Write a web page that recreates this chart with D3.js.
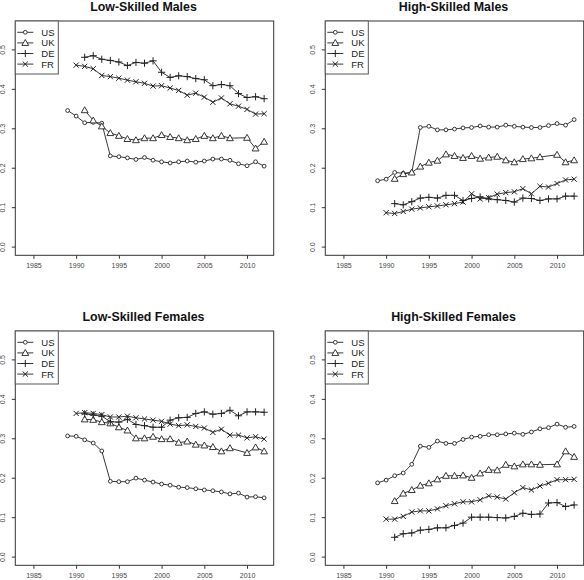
<!DOCTYPE html>
<html>
<head>
<meta charset="utf-8">
<script src="https://cdn.jsdelivr.net/npm/d3@7"></script>
<style>
  html, body { margin: 0; padding: 0; background: #fff; }
  svg { display: block; }
  text { font-family: "Liberation Sans", Arial, sans-serif; }
</style>
</head>
<body>
<svg id="chart" width="584" height="580"></svg>
<script>
// ---- DATA ----
const years = [1989,1990,1991,1992,1993,1994,1995,1996,1997,1998,1999,2000,
               2001,2002,2003,2004,2005,2006,2007,2008,2009,2010,2011,2012];
const countries = ["US", "UK", "DE", "FR"];
const titles = ["Low-Skilled Males", "High-Skilled Males", "Low-Skilled Females", "High-Skilled Females"];
const xTicks = [1985, 1990, 1995, 2000, 2005, 2010];
const yTicks = [0.0, 0.1, 0.2, 0.3, 0.4, 0.5];
const yTickLabels = ["0.0", "0.1", "0.2", "0.3", "0.4", "0.5"];

// Low-Skilled Males
const lsmUS = [0.345,0.331,0.314,0.315,0.313,0.230,0.228,0.225,0.221,0.226,0.219,0.215,0.212,0.215,0.217,0.214,0.217,0.222,0.222,0.219,0.210,0.205,0.215,0.204];
const lsmUK = [null,null,0.346,0.320,0.305,0.288,0.281,0.273,0.270,0.275,0.275,0.283,0.278,0.275,0.270,0.273,0.281,0.275,0.281,0.275,null,0.276,0.249,0.266];
const lsmDE = [null,null,0.480,0.484,0.475,0.472,0.468,0.459,0.467,0.465,0.471,0.442,0.429,0.433,0.431,0.426,0.423,0.408,0.411,0.408,0.388,0.378,0.380,0.375];
const lsmFR = [null,0.460,0.457,0.451,0.434,0.431,0.427,0.422,0.418,0.414,0.407,0.408,0.402,0.396,0.384,0.389,0.379,0.366,0.377,0.362,0.356,0.348,0.336,0.337];

// High-Skilled Males
const hsmUS = [0.167,0.171,0.188,0.186,0.188,0.302,0.305,0.296,0.296,0.298,0.301,0.302,0.306,0.303,0.303,0.308,0.305,0.303,0.302,0.302,0.307,0.312,0.308,0.322];
const hsmUK = [null,null,0.172,0.184,0.188,0.203,0.213,0.218,0.234,0.230,0.225,0.230,0.223,0.226,0.228,0.219,0.214,0.222,0.224,0.227,null,0.233,0.214,0.219];
const hsmDE = [null,null,0.109,0.106,0.114,0.123,0.125,0.123,0.130,0.130,0.117,0.122,0.126,0.121,0.119,0.117,0.113,0.123,0.122,0.117,0.121,0.121,0.128,0.128];
const hsmFR = [null,0.086,0.084,0.089,0.095,0.098,0.101,0.103,0.106,0.109,0.113,0.134,0.121,0.124,0.133,0.137,0.139,0.147,0.134,0.153,0.151,0.160,0.169,0.171];

// Low-Skilled Females
const lsfUS = [0.306,0.305,0.296,0.288,0.268,0.191,0.190,0.190,0.199,0.194,0.189,0.184,0.181,0.176,0.175,0.172,0.169,0.167,0.164,0.159,0.161,0.151,0.152,0.149];
const lsfUK = [null,null,0.348,0.347,0.341,0.338,0.328,0.320,0.300,0.300,0.304,0.298,0.298,0.289,0.292,0.284,0.282,0.278,0.267,0.275,null,0.263,0.277,0.267];
const lsfDE = [null,null,0.362,0.359,0.356,0.342,0.341,0.348,0.335,0.332,0.328,0.328,0.346,0.352,0.353,0.363,0.367,0.361,0.363,0.371,0.357,0.367,0.367,0.366];
const lsfFR = [null,0.363,0.365,0.363,0.360,0.354,0.354,0.356,0.352,0.349,0.346,0.343,0.336,0.332,0.334,0.330,0.326,0.315,0.323,0.308,0.308,0.301,0.304,0.298];

// High-Skilled Females
const hsfUS = [0.187,0.194,0.205,0.212,0.234,0.280,0.277,0.293,0.287,0.287,0.297,0.303,0.305,0.309,0.309,0.311,0.313,0.310,0.316,0.324,0.327,0.336,0.328,0.330];
const hsfUK = [null,null,0.141,0.160,0.169,0.180,0.186,0.196,0.205,0.205,0.206,0.200,0.211,0.220,0.219,0.233,0.229,0.234,0.234,0.233,null,0.234,0.267,0.253];
const hsfDE = [null,null,0.049,0.058,0.060,0.067,0.069,0.073,0.073,0.079,0.085,0.100,0.100,0.100,0.099,0.098,0.102,0.110,0.107,0.108,0.136,0.137,0.127,0.131];
const hsfFR = [null,0.095,0.095,0.102,0.113,0.116,0.116,0.121,0.129,0.134,0.139,0.139,0.144,0.154,0.151,0.146,0.162,0.175,0.169,0.179,0.186,0.195,0.195,0.196];

const panelSeries = [
  [lsmUS, lsmUK, lsmDE, lsmFR],
  [hsmUS, hsmUK, hsmDE, hsmFR],
  [lsfUS, lsfUK, lsfDE, lsfFR],
  [hsfUS, hsfUK, hsfDE, hsfFR]
];

// ---- LAYOUT ----
const boxW = 258.4, boxH = 234.3;
const panelPos = [
  {x: 15.3,  y: 21},
  {x: 325.3, y: 21},
  {x: 15.3,  y: 331},
  {x: 325.3, y: 331}
];
const lineCol = "#222";

const svg = d3.select("#chart");

function drawMarker(g, type, cx, cy) {
  const s = g.append("g").attr("transform", `translate(${cx},${cy})`);
  if (type === 0) {
    s.append("circle").attr("r", 1.9).attr("fill", "#fff").attr("stroke", lineCol).attr("stroke-width", 0.9);
  } else if (type === 1) {
    const h = 3.4;
    s.append("path").attr("d", `M0,${-h} L${h*1.0},${h*0.75} L${-h*1.0},${h*0.75} Z`)
      .attr("fill", "#fff").attr("stroke", lineCol).attr("stroke-width", 0.9);
  } else if (type === 2) {
    const h = 3.6;
    s.append("path").attr("d", `M${-h},0 L${h},0 M0,${-h} L0,${h}`)
      .attr("stroke", lineCol).attr("stroke-width", 1);
  } else {
    const h = 2.6;
    s.append("path").attr("d", `M${-h},${-h} L${h},${h} M${-h},${h} L${h},${-h}`)
      .attr("stroke", lineCol).attr("stroke-width", 1);
  }
}

panelSeries.forEach((series, pi) => {
  const p = panelPos[pi];
  const x = d3.scaleLinear().domain([1984 - 1.12, 2012 + 1.12]).range([p.x, p.x + boxW]);
  const y = d3.scaleLinear().domain([-0.022, 0.572]).range([p.y + boxH, p.y]);
  const g = svg.append("g");

  // title
  g.append("text")
    .attr("x", p.x + boxW / 2 - 1)
    .attr("y", p.y - 10.5)
    .attr("text-anchor", "middle")
    .attr("font-size", "12.4px")
    .attr("font-weight", "bold")
    .attr("fill", "#111")
    .text(titles[pi]);

  // axes
  const xAxis = g.append("g")
    .attr("transform", `translate(0,${p.y + boxH})`)
    .call(d3.axisBottom(x).tickValues(xTicks).tickFormat(d3.format("d")).tickSize(3.5).tickPadding(4));
  const yAxis = g.append("g")
    .attr("transform", `translate(${p.x},0)`)
    .call(d3.axisLeft(y).tickValues(yTicks).tickFormat((d, i) => yTickLabels[i]).tickSize(3.5).tickPadding(0));
  [xAxis, yAxis].forEach(a => {
    a.select(".domain").remove();
    a.selectAll(".tick line").attr("stroke", "#333");
    a.selectAll(".tick text").attr("fill", "#444").attr("font-size", "7px")
      .attr("font-family", "\"Liberation Sans\", Arial, sans-serif");
  });
  yAxis.selectAll(".tick text")
    .attr("text-anchor", "middle")
    .attr("x", null)
    .attr("transform", "translate(-10.5,0) rotate(-90)")
    .attr("y", 0)
    .attr("dy", "0em");

  // lines and markers
  series.forEach((vals, si) => {
    const pts = years.map((yr, i) => ({yr, v: vals[i]})).filter(d => d.v !== null);
    g.append("path")
      .datum(pts)
      .attr("fill", "none")
      .attr("stroke", lineCol)
      .attr("stroke-width", 0.9)
      .attr("d", d3.line().x(d => x(d.yr)).y(d => y(d.v)));
    pts.forEach(d => drawMarker(g, si, x(d.yr), y(d.v)));
  });

  // plot box
  g.append("rect")
    .attr("x", p.x).attr("y", p.y).attr("width", boxW).attr("height", boxH)
    .attr("fill", "none").attr("stroke", "#333").attr("stroke-width", 1);

  // legend
  const lg = g.append("g").attr("transform", `translate(${p.x},${p.y})`);
  lg.append("rect").attr("x", 0).attr("y", 0).attr("width", 43).attr("height", 53)
    .attr("fill", "#fff").attr("stroke", "#555").attr("stroke-width", 1);
  countries.forEach((c, ci) => {
    const ry = 11.3 + ci * 10.6;
    lg.append("line").attr("x1", 2).attr("x2", 18).attr("y1", ry).attr("y2", ry)
      .attr("stroke", lineCol).attr("stroke-width", 0.9);
    drawMarker(lg, ci, 10, ry);
    lg.append("text").attr("x", 26).attr("y", ry + 3.5)
      .attr("font-size", "9.5px").attr("fill", "#222").text(c);
  });
});
</script>
</body>
</html>
